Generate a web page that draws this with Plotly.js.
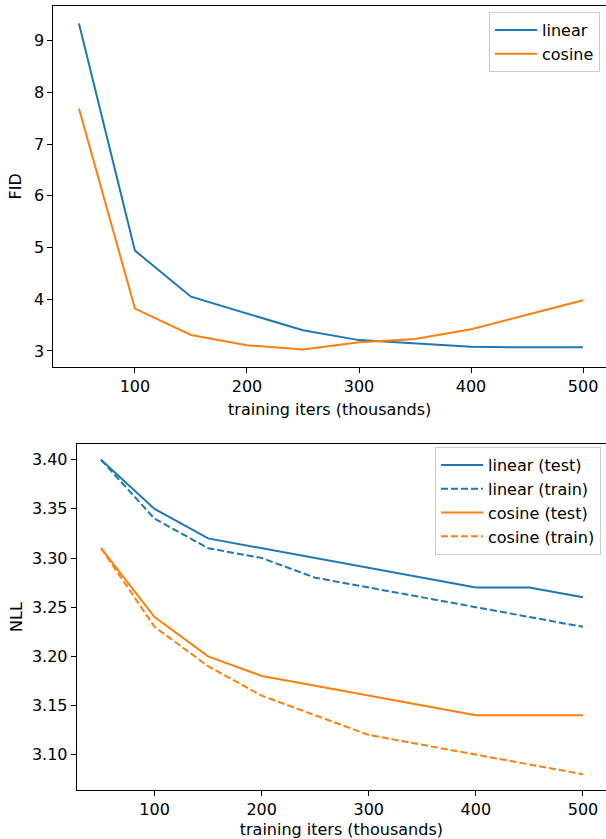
<!DOCTYPE html>
<html>
<head>
<meta charset="utf-8">
<script src="https://cdn.plot.ly/plotly-3.0.1.min.js"></script>
<style>html,body{margin:0;padding:0;background:#fff;}#chart{width:606px;height:839px;}</style>
</head>
<body>
<div id="chart"></div>
<script>
const iters = [50, 100, 150, 200, 250, 300, 350, 400, 450, 500];
const fidLinear = [9.33, 4.94, 4.05, 3.73, 3.40, 3.21, 3.14, 3.08, 3.07, 3.07];
const fidCosine = [7.69, 3.82, 3.31, 3.11, 3.03, 3.17, 3.23, 3.42, 3.70, 3.98];
const nllLinearTest = [3.40, 3.35, 3.32, 3.31, 3.30, 3.29, 3.28, 3.27, 3.27, 3.26];
const nllLinearTrain = [3.40, 3.34, 3.31, 3.30, 3.28, 3.27, 3.26, 3.25, 3.24, 3.23];
const nllCosineTest = [3.31, 3.24, 3.20, 3.18, 3.17, 3.16, 3.15, 3.14, 3.14, 3.14];
const nllCosineTrain = [3.31, 3.23, 3.19, 3.16, 3.14, 3.12, 3.11, 3.10, 3.09, 3.08];

const BLUE = '#1f77b4', ORANGE = '#ff7f0e';
const FONT = 'DejaVu Sans, sans-serif';
const FS = 16;

const traces = [
  {x: iters, y: fidLinear, name: 'linear', mode: 'lines', line: {color: BLUE, width: 2}, xaxis: 'x', yaxis: 'y', legend: 'legend'},
  {x: iters, y: fidCosine, name: 'cosine', mode: 'lines', line: {color: ORANGE, width: 2}, xaxis: 'x', yaxis: 'y', legend: 'legend'},
  {x: iters, y: nllLinearTest, name: 'linear (test)', mode: 'lines', line: {color: BLUE, width: 2}, xaxis: 'x2', yaxis: 'y2', legend: 'legend2'},
  {x: iters, y: nllLinearTrain, name: 'linear (train)', mode: 'lines', line: {color: BLUE, width: 2, dash: '7px,3px'}, xaxis: 'x2', yaxis: 'y2', legend: 'legend2'},
  {x: iters, y: nllCosineTest, name: 'cosine (test)', mode: 'lines', line: {color: ORANGE, width: 2}, xaxis: 'x2', yaxis: 'y2', legend: 'legend2'},
  {x: iters, y: nllCosineTrain, name: 'cosine (train)', mode: 'lines', line: {color: ORANGE, width: 2, dash: '7px,3px'}, xaxis: 'x2', yaxis: 'y2', legend: 'legend2'}
];

const H = 839, W = 606;
const axCommon = {
  showgrid: false, zeroline: false, showline: true, linecolor: '#000', linewidth: 1,
  ticks: 'outside', ticklen: 5, tickwidth: 1, tickcolor: '#000',
  tickfont: {family: FONT, size: FS, color: '#000'}
};
const legCommon = {
  font: {family: FONT, size: FS, color: '#000'}, bgcolor: 'rgba(255,255,255,0.8)',
  bordercolor: '#cccccc', borderwidth: 1, xanchor: 'right', yanchor: 'top', xref: 'paper', yref: 'paper',
  itemwidth: 42
};

const layout = {
  width: W, height: H,
  margin: {l: 0, r: 0, t: 0, b: 0},
  paper_bgcolor: '#fff', plot_bgcolor: '#fff',
  font: {family: FONT, size: FS, color: '#000'},
  xaxis: Object.assign({}, axCommon, {
    domain: [53.3 / W, 1], anchor: 'y', range: [27.1, 520.5], tickvals: [100, 200, 300, 400, 500], mirror: true,
    title: {text: 'training iters (thousands)', font: {family: FONT, size: FS, color: '#000'}, standoff: 9}
  }),
  yaxis: Object.assign({}, axCommon, {
    domain: [1 - 366.5 / H, 1 - 6 / H], anchor: 'x', range: [2.70, 9.67], dtick: 1, tick0: 0,
    title: {text: 'FID', font: {family: FONT, size: FS, color: '#000'}, standoff: 8}
  }),
  xaxis2: Object.assign({}, axCommon, {
    domain: [76.7 / W, 1], anchor: 'y2', range: [27.3, 521.5], tickvals: [100, 200, 300, 400, 500], mirror: true,
    title: {text: 'training iters (thousands)', font: {family: FONT, size: FS, color: '#000'}, standoff: 9}
  }),
  yaxis2: Object.assign({}, axCommon, {
    domain: [1 - 790 / H, 1 - 444 / H], anchor: 'x2', range: [3.064, 3.416], dtick: 0.05, tick0: 3, tickformat: '.2f',
    title: {text: 'NLL', font: {family: FONT, size: FS, color: '#000'}, standoff: 5}
  }),
  legend: Object.assign({}, legCommon, {x: 600 / W, y: 1 - 12 / H}),
  legend2: Object.assign({}, legCommon, {x: 601 / W, y: 1 - 447 / H}),
  showlegend: true
};

Plotly.newPlot('chart', traces, layout, {displayModeBar: false, staticPlot: true});
</script>
</body>
</html>
